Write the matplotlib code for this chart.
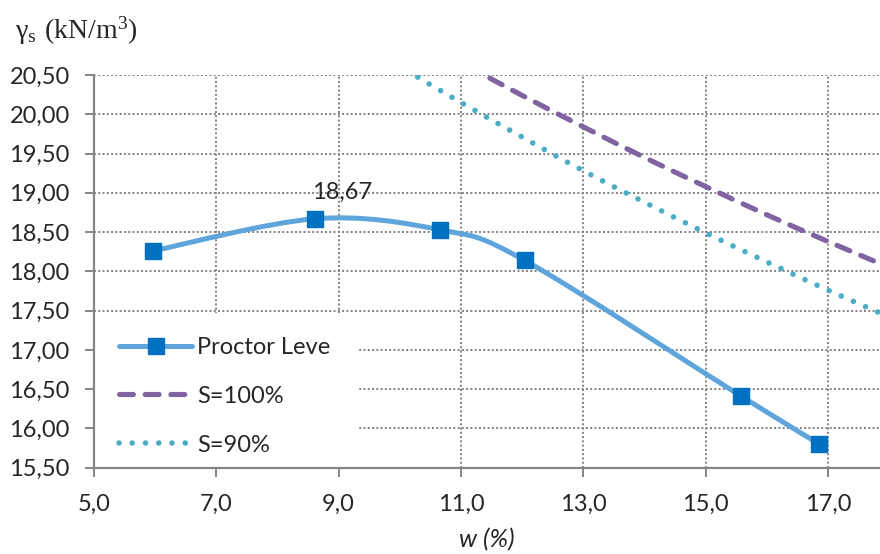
import numpy as np
import matplotlib
matplotlib.use('Agg')
import matplotlib.pyplot as plt
from matplotlib.path import Path
from matplotlib.patches import PathPatch, Rectangle
from matplotlib.lines import Line2D
from matplotlib.ticker import FuncFormatter

# Proctor Leve test points
w_proctor = [5.96, 8.62, 10.65, 12.04, 15.58, 16.86]
g_proctor = [18.26, 18.67, 18.53, 18.14, 16.41, 15.80]

# saturation lines
w_s100 = [10.0, 11.0, 12.0, 13.0, 14.0, 15.0, 16.0, 17.0, 18.0]
g_s100 = [21.09, 20.66, 20.24, 19.84, 19.45, 19.08, 18.72, 18.38, 18.05]
w_s90 = [9.0, 10.0, 11.0, 12.0, 13.0, 14.0, 15.0, 16.0, 17.0, 18.0]
g_s90 = [21.09, 20.61, 20.15, 19.71, 19.28, 18.88, 18.49, 18.12, 17.76, 17.42]

peak_label = '18,67'
x_ticks = [5, 7, 9, 11, 13, 15, 17]
y_ticks = [15.5, 16.0, 16.5, 17.0, 17.5, 18.0, 18.5, 19.0, 19.5, 20.0, 20.5]

TICK_FONT = 'Lato'
FS = 17
GRAY = '#868686'


def smooth_path(xs, ys):
    # excel-like smoothed line: cubic bezier through every point
    pts = np.column_stack([xs, ys])
    n = len(pts)
    verts = [pts[0]]
    codes = [Path.MOVETO]
    for i in range(n - 1):
        p0 = pts[i - 1] if i > 0 else pts[i]
        p1 = pts[i]
        p2 = pts[i + 1]
        p3 = pts[i + 2] if i + 2 < n else pts[i + 1]
        c1 = p1 + (p2 - p0) / 6.0
        c2 = p2 - (p3 - p1) / 6.0
        verts += [c1, c2, p2]
        codes += [Path.CURVE4] * 3
    return Path(verts, codes)


def add_curve(ax, xs, ys, style, z):
    ax.add_patch(PathPatch(smooth_path(xs, ys), fill=False, zorder=z,
                           edgecolor=style['color'], linewidth=style['linewidth'],
                           linestyle=style.get('linestyle', '-'), capstyle='round'))


fig = plt.figure(figsize=(8.8, 5.54), dpi=100)
ax = fig.add_axes([0.1068, 0.1558, 0.8932, 0.7088])

ax.set_xlim(5.0, 17.85)
ax.set_ylim(15.5, 20.5)

ax.grid(True, color='#808080', linestyle=(0, (1, 1.2)), linewidth=1.4, zorder=0)
ax.set_axisbelow(True)

s100_style = dict(color='#8064A2', linewidth=3.7, linestyle=(0, (2.7, 2.3)))
s90_style = dict(color='#4BACC6', linewidth=4.0, linestyle=(0, (0.01, 2.375)))
proctor_style = dict(color='#5DA5DA', linewidth=3.6)

add_curve(ax, w_s100, g_s100, s100_style, 2)
add_curve(ax, w_s90, g_s90, s90_style, 2)
add_curve(ax, w_proctor, g_proctor, proctor_style, 3)
ax.plot(w_proctor, g_proctor, linestyle='none', marker='s', markersize=11,
        markerfacecolor='#0070C0', markeredgecolor='#0070C0', zorder=4)

i_max = int(np.argmax(g_proctor))
ax.annotate(peak_label, (w_proctor[i_max], g_proctor[i_max]), xytext=(19, 19),
            textcoords='offset points', ha='center', va='center',
            fontsize=FS, family=TICK_FONT, color='#262626')

for side in ['top', 'right']:
    ax.spines[side].set_visible(False)
for side in ['left', 'bottom']:
    ax.spines[side].set_color(GRAY)
    ax.spines[side].set_linewidth(1.6)
    ax.spines[side].set_zorder(6)

ax.set_xticks(x_ticks)
ax.set_yticks(y_ticks)
ax.xaxis.set_major_formatter(FuncFormatter(lambda v, p: ('%.1f' % v).replace('.', ',')))
ax.yaxis.set_major_formatter(FuncFormatter(lambda v, p: ('%.2f' % v).replace('.', ',')))
ax.tick_params(axis='both', colors=GRAY, labelcolor='#262626', length=6.5, width=1.4,
               labelsize=FS)
ax.tick_params(axis='y', pad=11)
ax.tick_params(axis='x', pad=12)
for lab in ax.get_xticklabels() + ax.get_yticklabels():
    lab.set_family(TICK_FONT)

ax.set_xlabel('w (%)', fontsize=18, family=TICK_FONT, style='italic', color='#262626',
              labelpad=10)

fig.text(0.017, 0.945, r'$\mathregular{\gamma_s\ (kN/m^3)}$', fontsize=20,
         family='Liberation Serif', color='#262626', ha='left', va='center')

# white block behind the legend hides the grid there
ax.add_patch(Rectangle((0, 0), 0.335, 0.394, transform=ax.transAxes,
                       facecolor='white', edgecolor='none', zorder=4.5))

handles = [
    Line2D([], [], marker='s', markersize=11, markerfacecolor='#0070C0',
           markeredgecolor='#0070C0', solid_capstyle='round', **proctor_style),
    Line2D([], [], dash_capstyle='round', **s100_style),
    Line2D([], [], dash_capstyle='round', **s90_style),
]
leg = ax.legend(handles, ['Proctor Leve', 'S=100%', 'S=90%'], loc='lower left',
                bbox_to_anchor=(0.032, 0.031), borderaxespad=0, borderpad=0,
                frameon=False, prop={'family': TICK_FONT, 'size': FS},
                handlelength=3.1, handletextpad=0.2, labelspacing=1.18)
for t in leg.get_texts():
    t.set_color('#262626')

fig.savefig('out.png', dpi=100)
